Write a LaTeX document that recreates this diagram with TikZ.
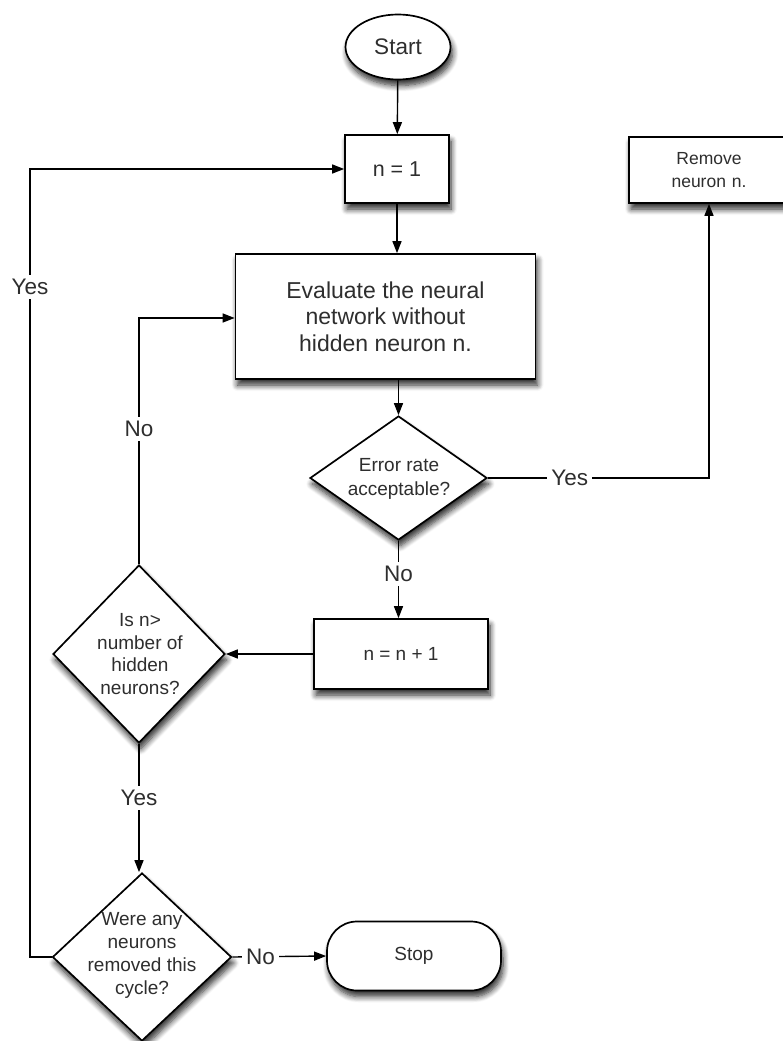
\documentclass[tikz,border=0pt]{standalone}
\usepackage{fontspec}
\setmainfont{Liberation Sans}
\usetikzlibrary{shapes.geometric,arrows.meta,shadows.blur}
\definecolor{txt}{HTML}{2E2E2E}
\tikzset{
  fshape/.style={draw=black, line width=1.7pt, fill=white, inner sep=0pt,
    blur shadow={shadow xshift=2pt, shadow yshift=-6pt, shadow blur radius=6pt, shadow blur steps=8, shadow opacity=85}},
  boxnode/.style={fshape, rectangle, minimum width=#1},
  dia/.style={fshape, diamond},
  txtnode/.style={text=txt, align=center, inner sep=0pt},
  conn/.style={line width=1.4pt, draw=black},
  arr/.style={conn, -{Triangle[length=12pt,width=9pt]}},
  lbl/.style={text=txt, fill=white, inner sep=4pt, font=\fontsize{22.5}{24}\selectfont},
}
\begin{document}
\begin{tikzpicture}[x=1pt,y=-1pt]
\useasboundingbox (0,0) rectangle (783,1041);
\clip (0,0) rectangle (783,1041);
% nodes
\node[fshape, ellipse, minimum width=105pt, minimum height=65pt, font=\fontsize{22.5}{24}\selectfont, text=txt] (start) at (398,47) {Start};
\node[boxnode=104pt, minimum height=68pt, font=\fontsize{21.5}{24}\selectfont, text=txt] (n1) at (397,169) {n = 1};
\node[boxnode=160pt, minimum height=66pt, font=\fontsize{17.5}{23}\selectfont, text=txt, align=center, text width=150pt] (rem) at (709,170) {Remove\\neuron n.};
\node[boxnode=300pt, minimum height=125pt, font=\fontsize{23}{26.5}\selectfont, text=txt, align=center] (eval) at (385.5,316.5) {Evaluate the neural\\network without\\hidden neuron n.};
\node[dia, minimum width=177pt, minimum height=124pt] (err) at (398.5,478) {};
\node[txtnode, font=\fontsize{19}{24}\selectfont] (errt) at (399,479) {Error rate\\acceptable?};
\node[boxnode=174pt, minimum height=70pt, font=\fontsize{19}{20}\selectfont, text=txt] (inc) at (401,654) {n = n + 1};
\node[dia, minimum width=172pt, minimum height=178pt] (isn) at (139,654) {};
\node[txtnode, font=\fontsize{19}{22.5}\selectfont] (isnt) at (140,654) {Is n>\\number of\\hidden\\neurons?};
\node[dia, minimum width=179pt, minimum height=168pt] (were) at (142,957) {};
\node[txtnode, font=\fontsize{19}{23}\selectfont] (weret) at (142,955) {Were any\\neurons\\removed this\\cycle?};
\node[fshape, rectangle, rounded corners=30pt, minimum width=174pt, minimum height=69pt, font=\fontsize{19}{20}\selectfont, text=txt] (stop) at (414,956) {Stop};
% helper coordinates
\coordinate (yesR) at (709,478);
\coordinate (noL) at (139,318);
\coordinate (yesLb) at (30,957);
\coordinate (yesLt) at (30,169);
% connectors
\draw[arr] (start) -- (n1);
\draw[arr] (n1.south) -- (n1.south |- eval.north);
\draw[arr] (eval.south -| err.north) -- (err.north);
\draw[arr] (err.south) -- node[lbl, pos=0.43] (noE) {No} (inc.north -| err.south);
\draw[arr] (err.east) -- node[lbl, pos=0.37] (yesE) {Yes} (yesR) -- (rem.south -| yesR);
\draw[arr] (inc.west) -- (isn.east);
\draw[arr] (isn.north) -- node[lbl, pos=0.55] (noI) {No} (noL) -- (eval.west |- noL);
\draw[arr] (isn.south) -- node[lbl, pos=0.42] (yesI) {Yes} (isn.south |- were.north);
\draw[arr] (were.east) -- node[lbl, pos=0.3] (noW) {No} (stop.west);
\draw[arr] (were.west) -- (yesLb) -- node[lbl, pos=0.85] (yesW) {Yes} (yesLt) -- (n1.west);
\end{tikzpicture}
\end{document}
